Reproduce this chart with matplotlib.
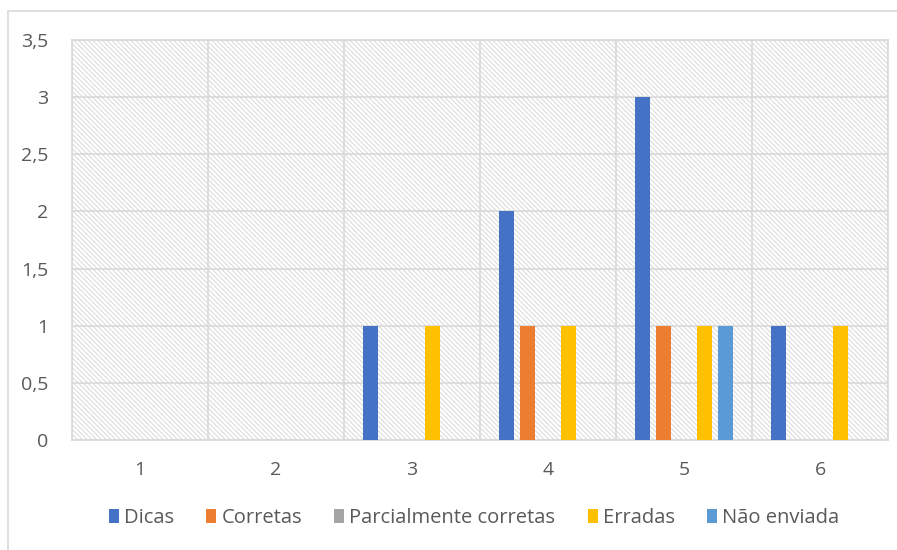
import matplotlib
matplotlib.use("Agg")
import matplotlib.pyplot as plt
from matplotlib.patches import Rectangle
import numpy as np

categories = ["1", "2", "3", "4", "5", "6"]
series_names = ["Dicas", "Corretas", "Parcialmente corretas", "Erradas", "Não enviada"]
dicas = [0, 0, 1, 2, 3, 1]
corretas = [0, 0, 0, 1, 1, 0]
parcial = [0, 0, 0, 0, 0, 0]
erradas = [0, 0, 1, 1, 1, 1]
nao_enviada = [0, 0, 0, 0, 1, 0]
colors = ["#4472C4", "#ED7D31", "#A5A5A5", "#FFC000", "#5B9BD5"]
y_ticks = [0, 0.5, 1, 1.5, 2, 2.5, 3, 3.5]

plt.rcParams['font.family'] = ['Open Sans', 'DejaVu Sans']
plt.rcParams['hatch.color'] = '#dcdcdc'
plt.rcParams['hatch.linewidth'] = 0.8

fig = plt.figure(figsize=(8.97, 5.5), dpi=100)
# outer chart frame
fig.patches.append(Rectangle((8/897, -0.05), 1.2, 1 - 11/550 + 0.05, transform=fig.transFigure,
                             facecolor='none', edgecolor='#d9d9d9', linewidth=1.2, zorder=0))

ax = fig.add_axes([72/897, 1-440/550, (888-72)/897, 400/550])
ax.set_facecolor('white')
ax.add_patch(Rectangle((0, 0), 1, 1, transform=ax.transAxes, facecolor='white',
                       edgecolor='#dcdcdc', hatch='\\' * 7, linewidth=0, zorder=0))

x = np.arange(len(categories))
data = [dicas, corretas, parcial, erradas, nao_enviada]
slot = 0.151
width = 0.11
for i, (vals, name, c) in enumerate(zip(data, series_names, colors)):
    ax.bar(x + (i - 2) * slot, vals, width=width, color=c, label=name, zorder=3)

ax.set_xlim(-0.5, len(categories) - 0.5)
ax.set_ylim(0, 3.5)
ax.set_yticks(y_ticks)
ax.set_yticklabels([f"{v:g}".replace('.', ',') for v in y_ticks])
ax.set_xticks(x)
ax.set_xticklabels(categories)
ax.set_xticks(np.arange(-0.5, len(categories)), minor=True)
ax.grid(axis='y', which='major', color='#d9d9d9', linewidth=1.2, zorder=1)
ax.grid(axis='x', which='minor', color='#d9d9d9', linewidth=1.2, zorder=1)
ax.tick_params(axis='both', which='both', length=0, labelsize=14, colors='#595959')
ax.tick_params(axis='x', pad=15)
ax.tick_params(axis='y', pad=17)
for s in ax.spines.values():
    s.set_color('#d9d9d9')
    s.set_linewidth(1.2)
ax.set_axisbelow(True)

leg = fig.legend(loc='center', bbox_to_anchor=(474/897, 1-518/550), ncol=5, frameon=False,
                 fontsize=14.5, handlelength=0.5, handleheight=0.7, handletextpad=0.25,
                 columnspacing=1.6, labelcolor='#595959')

fig.savefig("out.png", dpi=100)
